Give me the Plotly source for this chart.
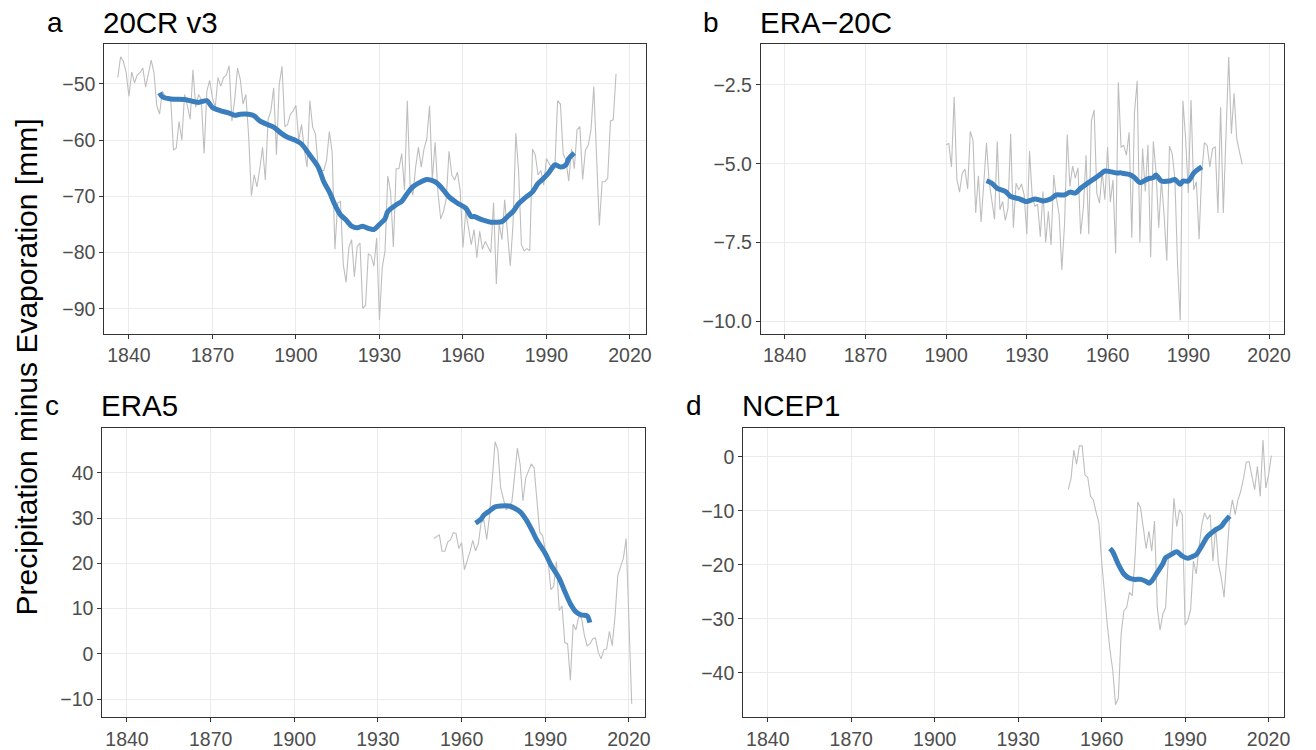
import plotly.graph_objects as go

# ---------------- data ----------------
years_20cr = list(range(1836, 2016))
pe_20cr = [-48.9, -45.2, -46.0, -48.0, -52.2, -47.9, -49.8, -48.4, -48.0, -47.2,
           -50.6, -48.4, -45.8, -48.0, -53.9, -55.4, -51.3, -52.2, -53.0, -52.5,
           -61.8, -61.4, -56.7, -60.0, -51.9, -53.9, -56.3, -47.5, -54.2, -51.9,
           -52.8, -62.4, -51.3, -49.4, -52.5, -54.2, -48.9, -50.4, -48.9, -48.4,
           -46.8, -56.6, -52.8, -47.2, -49.2, -53.6, -51.9, -59.2, -69.9, -66.2,
           -68.3, -65.1, -61.3, -67.1, -56.3, -54.8, -50.7, -62.6, -50.1, -46.9,
           -57.6, -57.2, -55.4, -54.8, -53.8, -60.1, -57.2, -61.6, -64.8, -53.0,
           -57.7, -58.9, -64.8, -65.4, -65.4, -63.6, -58.5, -62.1, -79.4, -71.2,
           -70.9, -82.1, -85.3, -79.1, -77.7, -84.3, -78.9, -78.3, -89.9, -89.4,
           -80.2, -80.6, -82.4, -77.4, -92.0, -82.7, -79.7, -66.4, -69.2, -79.0,
           -65.1, -65.1, -62.4, -68.9, -53.0, -68.0, -69.8, -64.8, -61.3, -64.8,
           -61.6, -59.8, -53.9, -67.1, -60.4, -69.2, -74.0, -72.7, -70.4, -62.0,
           -66.2, -67.1, -65.7, -68.9, -79.1, -72.7, -75.6, -78.6, -75.9, -80.9,
           -76.2, -79.4, -78.0, -79.1, -80.0, -71.1, -85.6, -74.8, -77.7, -70.6,
           -75.9, -82.4, -74.8, -58.8, -65.7, -78.6, -79.7, -79.3, -79.7, -61.6,
           -62.7, -66.2, -65.4, -68.0, -63.3, -64.2, -65.1, -65.1, -53.0, -53.6,
           -62.4, -63.6, -67.3, -61.6, -65.1, -58.2, -57.6, -67.0, -61.8, -60.9,
           -58.2, -50.5, -62.1, -75.2, -67.4, -67.4, -66.8, -56.6, -56.4, -48.2]
smooth_years_20cr = [1851, 1852, 1855, 1860, 1865, 1868, 1870, 1873, 1876, 1878,
                     1880, 1883, 1885, 1887, 1890, 1892, 1895, 1897, 1900, 1902,
                     1905, 1908, 1910, 1912, 1914, 1916, 1918, 1920, 1922, 1924,
                     1926, 1928, 1930, 1932, 1933, 1936, 1938, 1940, 1942, 1945,
                     1947, 1950, 1952, 1955, 1958, 1961, 1963, 1964, 1967, 1970,
                     1972, 1974, 1976, 1978, 1980, 1982, 1985, 1987, 1989, 1991,
                     1993, 1995, 1997, 1998, 2000]
smooth_20cr = [-51.6, -52.3, -52.7, -52.8, -53.3, -53.0, -54.2, -54.8, -55.2, -55.6,
               -55.4, -55.4, -55.7, -56.6, -57.3, -57.7, -58.9, -59.5, -60.1, -60.7,
               -62.7, -64.8, -67.4, -69.2, -71.5, -73.3, -74.2, -75.3, -75.6, -75.3,
               -75.7, -75.9, -75.0, -74.0, -72.7, -71.5, -70.9, -69.5, -68.3, -67.4,
               -67.0, -67.4, -68.3, -70.1, -71.2, -72.1, -73.6, -73.6, -74.2, -74.6,
               -74.6, -74.5, -73.6, -72.7, -71.3, -70.4, -69.2, -67.7, -66.8, -65.7,
               -64.4, -64.8, -64.4, -63.3, -62.3]

years_era20c = list(range(1900, 2011))
pe_era20c = [-4.40, -4.36, -5.10, -2.87, -5.50, -5.90, -5.30, -5.17, -5.80, -3.97,
             -4.26, -6.56, -5.38, -6.85, -5.62, -4.34, -5.57, -6.20, -6.77, -4.29,
             -6.46, -6.20, -6.80, -6.40, -4.05, -7.03, -5.62, -5.83, -5.64, -5.99,
             -7.24, -4.60, -6.04, -6.35, -6.28, -7.32, -5.88, -7.50, -6.51, -7.58,
             -5.36, -6.09, -6.62, -8.37, -6.93, -4.07, -5.72, -5.07, -5.46, -5.13,
             -7.24, -6.41, -4.73, -7.24, -3.63, -3.29, -5.93, -6.25, -5.25, -6.14,
             -4.47, -6.22, -5.52, -7.85, -2.41, -4.47, -4.42, -4.73, -4.00, -7.35,
             -3.37, -2.37, -7.50, -4.52, -5.88, -4.40, -7.96, -4.29, -5.25, -7.03,
             -5.52, -6.62, -8.08, -4.44, -4.68, -5.46, -8.19, -9.97, -3.00, -4.21,
             -5.93, -2.98, -5.83, -5.57, -7.40, -5.25, -4.33, -4.42, -5.10, -4.52,
             -4.47, -6.56, -3.21, -6.56, -4.00, -1.61, -4.05, -2.76, -4.21, -4.63,
             -5.02]
smooth_years_era20c = [1915, 1917, 1919, 1922, 1924, 1927, 1929, 1930, 1933, 1936,
                       1939, 1941, 1944, 1946, 1948, 1950, 1953, 1955, 1957, 1959,
                       1961, 1963, 1965, 1966, 1968, 1970, 1972, 1975, 1977, 1978,
                       1980, 1983, 1985, 1987, 1988, 1990, 1992, 1993, 1995]
smooth_era20c = [-5.54, -5.62, -5.78, -5.88, -6.04, -6.11, -6.18, -6.20, -6.12, -6.18,
                 -6.11, -5.99, -5.99, -5.90, -5.93, -5.78, -5.59, -5.48, -5.36, -5.23,
                 -5.25, -5.29, -5.29, -5.31, -5.34, -5.44, -5.60, -5.48, -5.44, -5.36,
                 -5.55, -5.55, -5.50, -5.65, -5.55, -5.55, -5.30, -5.22, -5.10]

years_era5 = list(range(1950, 2022))
pe_era5 = [25.5, 26.0, 26.3, 22.7, 22.7, 24.7, 25.2, 26.8, 26.6, 23.3,
           24.6, 18.6, 20.4, 22.6, 25.1, 22.8, 24.4, 29.1, 29.5, 25.3,
           30.6, 39.3, 46.9, 45.1, 36.7, 34.2, 31.8, 32.7, 33.5, 39.3,
           45.5, 41.8, 33.8, 38.9, 40.7, 42.0, 41.1, 34.2, 26.9, 26.2,
           22.9, 20.7, 14.2, 14.9, 20.4, 9.6, 10.6, 2.5, 2.2, -5.8,
           6.6, 5.3, 8.2, 7.9, 4.2, 1.8, 2.2, 3.3, 3.5, 0.4,
           -1.1, 0.9, 1.1, 5.0, 1.8, 8.2, 17.3, 19.3, 21.1, 25.5,
           7.0, -11.0]
smooth_years_era5 = [1965, 1967, 1968, 1970, 1972, 1974, 1977, 1979, 1981, 1983,
                     1985, 1987, 1990, 1992, 1995, 1997, 1999, 2001, 2003, 2005, 2006]
smooth_era5 = [28.9, 29.8, 30.7, 31.6, 32.5, 32.7, 32.7, 32.2, 31.4, 29.8,
               27.6, 25.1, 22.2, 19.7, 16.7, 13.8, 11.1, 9.3, 8.6, 8.4, 6.9]

years_ncep1 = list(range(1948, 2022))
pe_ncep1 = [-6.1, -4.0, 1.2, -1.4, 2.0, 2.0, -3.4, -3.8, -7.3, -8.0,
            -10.2, -12.2, -19.3, -25.4, -30.9, -35.8, -39.5, -45.9, -44.7, -32.8,
            -28.5, -27.9, -25.1, -25.7, -18.7, -8.4, -9.5, -13.2, -17.0, -13.8,
            -17.5, -11.9, -27.9, -32.1, -29.1, -27.9, -18.4, -18.0, -7.7, -12.9,
            -9.8, -10.7, -31.2, -30.3, -28.2, -19.3, -21.7, -16.8, -12.6, -10.4,
            -11.6, -10.7, -19.3, -13.0, -19.9, -22.4, -26.0, -18.7, -11.2, -8.0,
            -10.7, -8.0, -6.4, -4.0, -1.0, -0.9, -3.4, -6.1, -1.8, -7.3,
            3.1, -5.8, -3.4, 0.2]
smooth_years_ncep1 = [1963, 1964, 1966, 1968, 1970, 1972, 1974, 1976, 1977, 1978,
                      1980, 1982, 1983, 1985, 1987, 1989, 1991, 1992, 1994, 1996,
                      1998, 2000, 2001, 2003, 2004, 2006]
smooth_ncep1 = [-17.0, -17.6, -19.9, -21.7, -22.5, -22.7, -22.7, -23.1, -23.4, -23.0,
                -21.4, -19.8, -18.7, -18.1, -17.6, -18.4, -18.8, -18.6, -18.1, -16.5,
                -14.8, -13.9, -13.5, -12.9, -12.2, -11.0]

panel_letters = ["a", "b", "c", "d"]
panel_titles = ["20CR v3", "ERA\u221220C", "ERA5", "NCEP1"]
x_ticks = [1840, 1870, 1900, 1930, 1960, 1990, 2020]
y_ticks = [[-90, -80, -70, -60, -50], [-10.0, -7.5, -5.0, -2.5],
           [-10, 0, 10, 20, 30, 40], [-40, -30, -20, -10, 0]]
y_title = "Precipitation minus Evaporation [mm]"

# ---------------- layout geometry (pixels) ----------------
W, H = 1316, 750
panels = [  # left, right, top, bottom (px), y-range
    dict(l=105, r=649, t=44.3, b=337, yr=[-94.45, -42.9], fmt=None),
    dict(l=765, r=1291, t=44.3, b=337, yr=[-10.4, -1.195], fmt=".1f"),
    dict(l=103, r=648, t=431.7, b=724, yr=[-14.0, 50.0], fmt=None),
    dict(l=747.3, r=1291, t=431.7, b=724, yr=[-48.2, 5.37], fmt=None),
]
xr = [1831.2, 2025.6]

series = [
    (years_20cr, pe_20cr, smooth_years_20cr, smooth_20cr),
    (years_era20c, pe_era20c, smooth_years_era20c, smooth_era20c),
    (years_era5, pe_era5, smooth_years_era5, smooth_era5),
    (years_ncep1, pe_ncep1, smooth_years_ncep1, smooth_ncep1),
]

FONT = "Liberation Sans, Arial, Helvetica, sans-serif"
GRAY = "#BEBEBE"
BLUE = "#3A7EBD"

fig = go.Figure()
layout = dict(
    width=W, height=H, margin=dict(l=0, r=0, t=0, b=0),
    paper_bgcolor="white", plot_bgcolor="white", showlegend=False,
    font=dict(family=FONT, color="#4D4D4D"),
)
annotations = []
for i, (p, s) in enumerate(zip(panels, series)):
    n = "" if i == 0 else str(i + 1)
    xa, ya = "x" + n, "y" + n
    fig.add_trace(go.Scatter(x=s[0], y=s[1], mode="lines", xaxis=xa, yaxis=ya,
                             line=dict(color=GRAY, width=1.1), hoverinfo="skip"))
    fig.add_trace(go.Scatter(x=s[2], y=s[3], mode="lines", xaxis=xa, yaxis=ya,
                             line=dict(color=BLUE, width=5, shape="spline", smoothing=0.8),
                             hoverinfo="skip"))
    common = dict(showline=True, linecolor="#333333", linewidth=1.2, mirror=True,
                  showgrid=True, gridcolor="#EBEBEB", gridwidth=1.2,
                  ticks="outside", ticklen=4, tickcolor="#333333", tickwidth=1.1,
                  zeroline=False, tickfont=dict(size=19.5, color="#4D4D4D", family=FONT))
    layout["xaxis" + n] = dict(common, domain=[p["l"] / W, p["r"] / W], range=xr,
                               tickvals=x_ticks, anchor=ya)
    yax = dict(common, domain=[1 - p["b"] / H, 1 - p["t"] / H], range=p["yr"],
               tickvals=y_ticks[i], anchor=xa)
    if p["fmt"]:
        yax["tickformat"] = p["fmt"]
    layout["yaxis" + n] = yax
    ymid = 1 - (p["t"] - 22) / H
    annotations.append(dict(text=panel_letters[i], xref="paper", yref="paper",
                            x=(p["l"] - 60) / W, y=ymid, xanchor="left", yanchor="middle",
                            showarrow=False, font=dict(size=28, color="black", family=FONT)))
    annotations.append(dict(text=panel_titles[i], xref="paper", yref="paper",
                            x=(p["l"] - 3) / W, y=ymid, xanchor="left", yanchor="middle",
                            showarrow=False, font=dict(size=29.5, color="black", family=FONT)))
annotations.append(dict(text=y_title, xref="paper", yref="paper", x=27 / W, y=1 - 370 / H,
                        xanchor="center", yanchor="middle", textangle=-90, showarrow=False,
                        font=dict(size=30, color="black", family=FONT)))
layout["annotations"] = annotations
fig.update_layout(**layout)
fig.write_html("out.html")
